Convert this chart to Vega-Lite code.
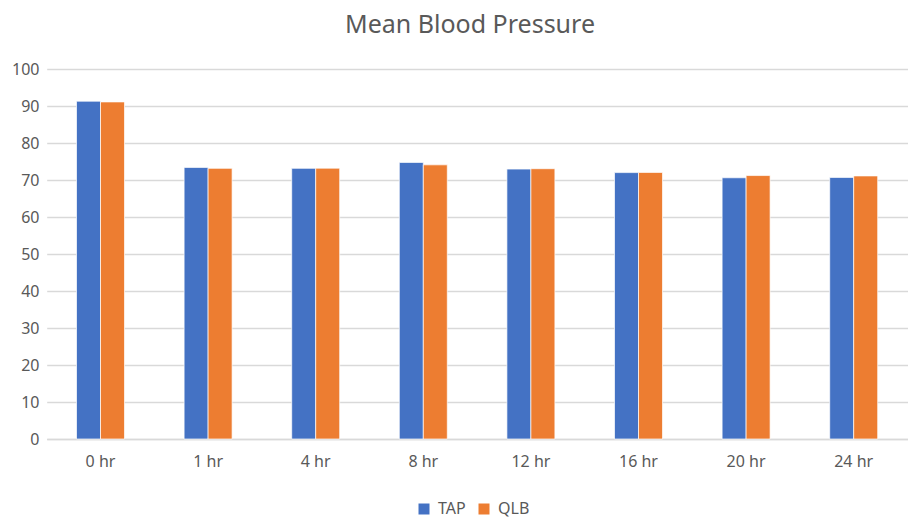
{
  "$schema": "https://vega.github.io/schema/vega-lite/v6.json",
  "width": 850,
  "height": 370,
  "autosize": {"type": "none"},
  "padding": {"left": 58, "top": 69, "right": 2, "bottom": 80},
  "background": "white",
  "title": {"text": "Mean Blood Pressure", "anchor": "middle", "fontSize": 25, "fontWeight": "normal", "color": "#595959", "font": "Noto Sans", "offset": 23, "dx": -13},
  "data": {"values": [
    {"time": "0 hr", "group": "TAP", "value": 91.3},
    {"time": "0 hr", "group": "QLB", "value": 91.1},
    {"time": "1 hr", "group": "TAP", "value": 73.4},
    {"time": "1 hr", "group": "QLB", "value": 73.15},
    {"time": "4 hr", "group": "TAP", "value": 73.15},
    {"time": "4 hr", "group": "QLB", "value": 73.2},
    {"time": "8 hr", "group": "TAP", "value": 74.75},
    {"time": "8 hr", "group": "QLB", "value": 74.1},
    {"time": "12 hr", "group": "TAP", "value": 72.95},
    {"time": "12 hr", "group": "QLB", "value": 73.05},
    {"time": "16 hr", "group": "TAP", "value": 72.0},
    {"time": "16 hr", "group": "QLB", "value": 72.05},
    {"time": "20 hr", "group": "TAP", "value": 70.6},
    {"time": "20 hr", "group": "QLB", "value": 71.2},
    {"time": "24 hr", "group": "TAP", "value": 70.7},
    {"time": "24 hr", "group": "QLB", "value": 71.1}
  ]},
  "mark": {"type": "bar", "stroke": "white", "strokeWidth": 0.7},
  "encoding": {
    "x": {"field": "time", "type": "nominal", "sort": null,
      "scale": {"range": [-11.3, 849.5], "paddingInner": 0.554, "paddingOuter": 0.277},
      "axis": {"title": null, "labelAngle": 0, "labelFontSize": 16, "labelColor": "#595959", "labelFont": "Noto Sans", "labelPadding": 14, "ticks": false, "domainColor": "#d9d9d9", "domainWidth": 1.5}},
    "xOffset": {"field": "group", "type": "nominal", "sort": ["TAP", "QLB"], "scale": {"paddingInner": 0}},
    "y": {"field": "value", "type": "quantitative",
      "scale": {"domain": [0, 100], "nice": false},
      "axis": {"title": null, "values": [0,10,20,30,40,50,60,70,80,90,100], "labelFontSize": 16, "labelColor": "#595959", "labelFont": "Noto Sans", "labelPadding": 19, "ticks": false, "domain": false, "gridColor": "#d9d9d9", "gridWidth": 1.5}},
    "color": {"field": "group", "type": "nominal", "sort": ["TAP", "QLB"],
      "scale": {"domain": ["TAP", "QLB"], "range": ["#4472C4", "#ED7D31"]},
      "legend": {"title": null, "orient": "none", "direction": "horizontal", "legendX": 358, "legendY": 432, "symbolType": "square", "symbolSize": 121, "symbolStrokeWidth": 0, "labelFontSize": 16, "labelColor": "#595959", "labelFont": "Noto Sans", "columnPadding": 10, "labelOffset": 6}}
  },
  "config": {"view": {"stroke": null}}
}
